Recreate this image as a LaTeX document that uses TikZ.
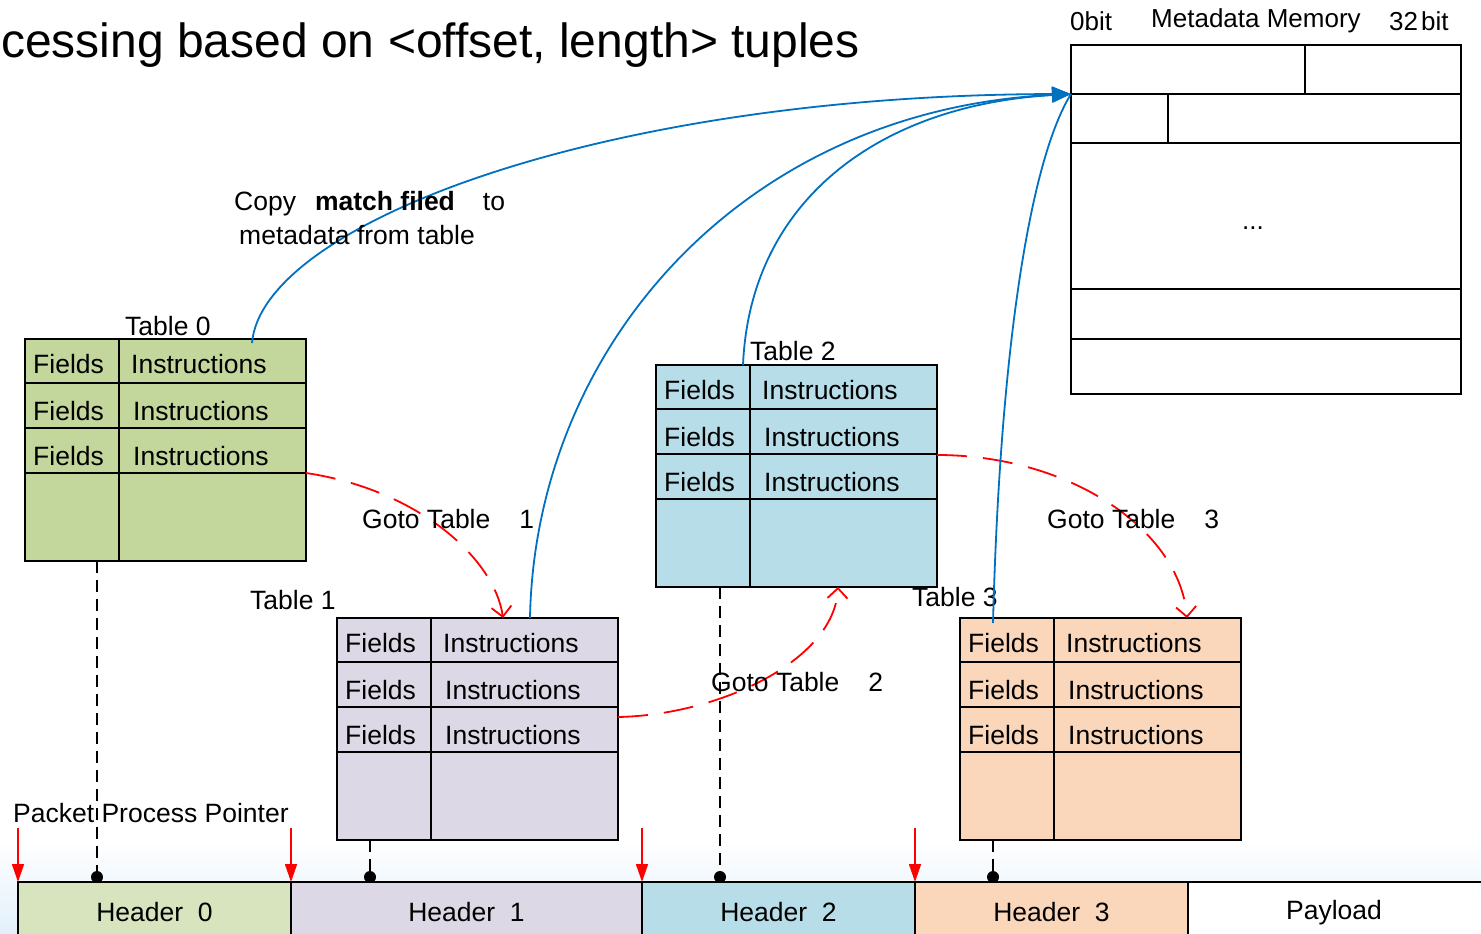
\documentclass[tikz,border=0pt]{standalone}
\usepackage{fontspec}
\setmainfont{Liberation Sans}
\usetikzlibrary{arrows.meta,calc}

\definecolor{tgreen}{RGB}{195,214,155}
\definecolor{hgreen}{RGB}{215,228,189}
\definecolor{tpurple}{RGB}{221,216,229}
\definecolor{tblue}{RGB}{183,221,232}
\definecolor{torange}{RGB}{250,215,186}
\definecolor{linkblue}{RGB}{0,112,192}
\definecolor{bghaze}{RGB}{226,240,251}

\tikzset{
  cell/.style={font=\fontsize{26.5}{30}\selectfont, inner sep=0pt, anchor=base west},
  label/.style={font=\fontsize{26.5}{30}\selectfont, inner sep=0pt, anchor=base west},
  tablebox/.style={draw=black, line width=1.8pt, minimum width=281pt, minimum height=222pt,
                   inner sep=0pt, outer sep=0pt},
  cellrule/.style={draw=black, line width=1.8pt},
  memrule/.style={draw=black, line width=1.8pt},
  headerbox/.style={draw=black, line width=1.8pt, minimum height=60pt, inner sep=0pt,
                    outer sep=0pt, anchor=north west, font=\fontsize{26.5}{30}\selectfont},
  copylink/.style={draw=linkblue, line width=1.8pt},
  copyhead/.style={copylink, -{Triangle[length=19pt,width=15pt]}},
  gotolink/.style={draw=red, line width=1.8pt, dash pattern=on 30pt off 16pt,
                   -{Straight Barb[length=10pt,width=20pt]}},
  pointer/.style={draw=red, line width=1.6pt, -{Triangle[length=18pt,width=12pt]}},
  probe/.style={draw=black, line width=1.6pt, dash pattern=on 12pt off 7pt},
  memlabel/.style={font=\fontsize{26}{30}\selectfont, inner sep=0pt, anchor=base west},
}

% one flow table: name, left, top, fill colour
\newcommand\flowtable[4]{%
  \node[tablebox, fill=#4, anchor=north west] (#1) at (#2,#3) {};
  \begin{scope}[shift={(#2,#3)}]
    \draw[cellrule] (0,44) -- (281,44) (0,89) -- (281,89) (0,134) -- (281,134) (94,0) -- (94,222);
    \node[cell] at (8,34)   {Fields};  \node[cell] at (106,34)  {Instructions};
    \node[cell] at (8,81)   {Fields};  \node[cell] at (108,81)  {Instructions};
    \node[cell] at (8,126)  {Fields};  \node[cell] at (108,126) {Instructions};
  \end{scope}%
}

\begin{document}
\begin{tikzpicture}[x=1pt,y=-1pt]
\clip (0,0) rectangle (1481,934);
\fill[white] (0,0) rectangle (1481,934);
\shade[top color=white, bottom color=bghaze] (0,840) rectangle (1481,934);

% heading
\node[anchor=base west, inner sep=0pt, font=\fontsize{48}{56}\selectfont] (title) at (1,58)
  {cessing based on <offset, length> tuples};

% metadata memory
\node[draw=black, line width=1.8pt, minimum width=390pt, minimum height=349pt, inner sep=0pt,
      outer sep=0pt, anchor=north west] (meta) at (1071,45) {};
\begin{scope}[shift={(1071,45)}]
  \draw[memrule] (0,49) -- (390,49) (0,98) -- (390,98) (0,244) -- (390,244) (0,294) -- (390,294);
  \draw[memrule] (234,0) -- (234,49) (97,49) -- (97,98);
\end{scope}
\coordinate (slot) at (1071,94);
\node[font=\fontsize{26}{30}\selectfont, inner sep=0pt] (dots) at (1253,228) {...};
\node[memlabel] (lo) at (1070,31) {0bit};
\node[memlabel] (mname) at (1151,28) {Metadata Memory};
\node[memlabel] (hi) at (1389,31) {32\hspace{3pt}bit};

% flow tables
\flowtable{t0}{25}{339}{tgreen}
\flowtable{t1}{337}{618}{tpurple}
\flowtable{t2}{656}{365}{tblue}
\flowtable{t3}{960}{618}{torange}
\node[label] (l0) at (125,335) {Table 0};
\node[label] (l1) at (250,609) {Table 1};
\node[label] (l2) at (750,360) {Table 2};
\node[label] (l3) at (912,606) {Table 3};

% packet headers
\node[headerbox, fill=hgreen,  minimum width=273pt] (h0) at (18,882)  {Header~~0};
\node[headerbox, fill=tpurple, minimum width=351pt] (h1) at (291,882) {Header~~1};
\node[headerbox, fill=tblue,   minimum width=273pt] (h2) at (642,882) {Header~~2};
\node[headerbox, fill=torange, minimum width=273pt] (h3) at (915,882) {Header~~3};
\node[headerbox, fill=white,   minimum width=320pt] (pl) at (1188,882) {};
\node[label, anchor=base] (pltext) at (1334,919) {Payload};

% match-field probes into the headers
\coordinate (d0) at (97,877);
\coordinate (d1) at (370,877);
\coordinate (d2) at (720,877);
\coordinate (d3) at (993,877);
\draw[probe] (d0 |- t0.south) -- (d0);
\draw[probe] (d1 |- t1.south) -- (d1);
\draw[probe] (d2 |- t2.south) -- (d2);
\draw[probe] (d3 |- t3.south) -- (d3);
\foreach \d in {d0,d1,d2,d3} \fill (\d) circle (6);

% packet process pointers
\node[label] (ppp) at (13,822) {Packet Process Pointer};
\coordinate (p0) at (18,828);
\coordinate (p1) at (291,828);
\coordinate (p2) at (642,828);
\coordinate (p3) at (915,828);
\draw[pointer] (p0) -- (h0.north west);
\draw[pointer] (p1) -- (h1.north west);
\draw[pointer] (p2) -- (h2.north west);
\draw[pointer] (p3) -- (h3.north west);

% goto-table transitions
\draw[gotolink] ($(t0.north east)+(0,134)$) .. controls (420,490) and (495,560) .. ($(t1.north west)+(166,0)$);
\draw[gotolink] ($(t1.north east)+(0,99)$) .. controls (720,715) and (835,660) .. ($(t2.south west)+(182,0)$);
\draw[gotolink] ($(t2.north east)+(0,90)$) .. controls (1070,455) and (1180,530) .. ($(t3.north west)+(227,0)$);
\node[label] (g1) at (362,528) {Goto Table\hspace{29pt}1};
\node[label] (g2) at (711,691) {Goto Table\hspace{29pt}2};
\node[label] (g3) at (1047,528) {Goto Table\hspace{29pt}3};

% copies of match fields into metadata
\draw[copyhead] ($(t0.north west)+(227,4)$) .. controls (262,225) and (600,95) .. (slot);
\draw[copyhead] ($(t1.north west)+(193,0)$) .. controls (535,350) and (740,110) .. (slot);
\draw[copyhead] ($(t2.north west)+(87,0)$) .. controls (750,200) and (880,105) .. (slot);
\draw[copylink] ($(t3.north west)+(33,5)$) .. controls (1000,350) and (1030,160) .. (slot);
\node[label] (c1) at (234,210) {Copy\hspace{19pt}\textbf{match filed}\hspace{28pt}to};
\node[label] (c2) at (239,244) {metadata from table};
\end{tikzpicture}
\end{document}
